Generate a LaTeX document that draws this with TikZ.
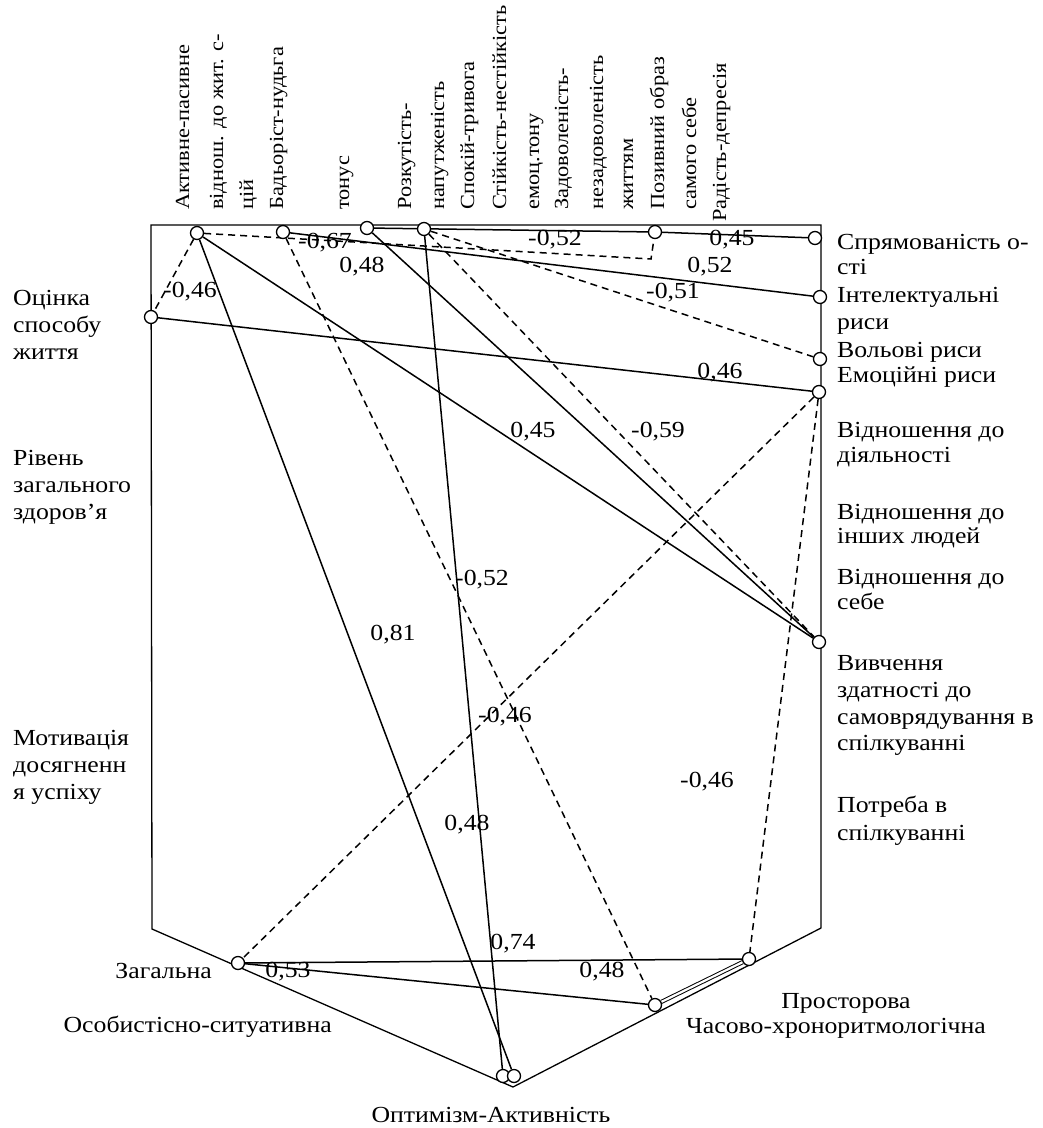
\documentclass[tikz,border=0pt]{standalone}
\usepackage{fontspec}
\setmainfont{Liberation Serif}
\newfontfamily\widefont{Liberation Serif}[FakeStretch=1.12]
\usetikzlibrary{backgrounds}
\begin{document}
\begin{tikzpicture}[x=1pt,y=-1pt,
  lbl/.style={font=\widefont\fontsize{23}{26}\selectfont, inner sep=0pt},
  pt/.style={circle,draw,fill=white,line width=1.3pt,minimum size=13pt,inner sep=0pt},
  posline/.style={line width=1.5pt},
  dblline/.style={line width=1pt,double,double distance=2.2pt},
  negline/.style={line width=1.5pt,dash pattern=on 7pt off 5pt},
  vlab/.style={font=\widefont\fontsize{20}{24}\selectfont, inner sep=0pt,rotate=90,anchor=base west},
  rlab/.style={lbl,anchor=base west},
  elab/.style={lbl,anchor=base east},
  clab/.style={lbl,anchor=base},
  num/.style={lbl}]
\useasboundingbox (0,0) rectangle (1043,1128);

% nodes
\node[pt] (A1) at (197,233) {};
\node[pt] (A2) at (283,232) {};
\node[pt] (A3) at (367,228) {};
\node[pt] (A4) at (424,229) {};
\node[pt] (A5) at (655,232) {};
\node[pt] (R1) at (815,238) {};
\node[pt] (R2) at (820,297) {};
\node[pt] (R3) at (820,359) {};
\node[pt] (R4) at (819,392) {};
\node[pt] (R5) at (819,642) {};
\node[pt] (L1) at (151,317) {};
\node[pt] (Z) at (238,963) {};
\node[pt] (P) at (749,959) {};
\node[pt] (C) at (655,1005) {};
\node[pt] (O1) at (503,1076) {};
\node[pt] (O2) at (514,1076) {};
\coordinate (E) at (651,259);

\begin{pgfonlayer}{background}
\fill[white] (0,0) rectangle (1043,1128);
\draw[line width=1.3pt] (151,225) -- (821,225) -- (821,928) -- (513,1087) -- (152,929) -- cycle;
% positive (solid)
\draw[posline] (A1) -- (O2);
\draw[posline] (A1) -- (R5);
\draw[posline] (A2) -- (R2);
\draw[posline] (A3) -- (R5);
\draw[posline] (A3) -- (A5);
\draw[posline] (A5) -- (R1);
\draw[posline] (A4) -- (O1);
\draw[posline] (L1) -- (R4);
\draw[posline] (Z) -- (P);
\draw[posline] (Z) -- (C);
\draw[dblline] (P) -- (C);
% negative (dashed)
\draw[negline] (A1) -- (L1);
\draw[negline] (A1) -- (E) -- (A5);
\draw[negline] (A2) -- (C);
\draw[negline] (A4) -- (R3);
\draw[negline] (A4) -- (R5);
\draw[negline] (R4) -- (Z);
\draw[negline] (R4) -- (P);
\end{pgfonlayer}

% top rotated labels
\node[vlab] (t1) at (189,210) {Активне-пасивне};
\node[vlab] (t2) at (223,210) {віднош. до жит. с-};
\node[vlab] (t3) at (253,210) {цій};
\node[vlab] (t4) at (283,210) {Бадьоріст-нудьга};
\node[vlab] (t5) at (349,210) {тонус};
\node[vlab] (t6) at (411,210) {Розкутість-};
\node[vlab] (t7) at (444,210) {напутженість};
\node[vlab] (t8) at (474,210) {Спокій-тривога};
\node[vlab] (t9) at (506,210) {Стійкість-нестійкість};
\node[vlab] (t10) at (539,210) {емоц.тону};
\node[vlab] (t11) at (568,210) {Задоволеність-};
\node[vlab] (t12) at (603,210) {незадоволеність};
\node[vlab] (t13) at (633,210) {життям};
\node[vlab] (t14) at (664,210) {Позивний образ};
\node[vlab] (t15) at (696,210) {самого себе};
\node[vlab] (t16) at (726,222) {Радість-депресія};

% right labels
\node[rlab] (r1a) at (837,249) {Спрямованість о-};
\node[rlab] (r1b) at (837,274) {сті};
\node[rlab] (r2a) at (837,302) {Інтелектуальні};
\node[rlab] (r2b) at (837,329) {риси};
\node[rlab] (r3) at (837,357) {Вольові риси};
\node[rlab] (r4) at (837,382) {Емоційні риси};
\node[rlab] (r5a) at (837,437) {Відношення до};
\node[rlab] (r5b) at (837,462) {діяльності};
\node[rlab] (r6a) at (837,519) {Відношення до};
\node[rlab] (r6b) at (837,543) {інших людей};
\node[rlab] (r7a) at (837,584) {Відношення до};
\node[rlab] (r7b) at (837,609) {себе};
\node[rlab] (r8a) at (837,670) {Вивчення};
\node[rlab] (r8b) at (837,697) {здатності до};
\node[rlab] (r8c) at (837,724) {самоврядування в};
\node[rlab] (r8d) at (837,750) {спілкуванні};
\node[rlab] (r9a) at (837,812) {Потреба в};
\node[rlab] (r9b) at (837,840) {спілкуванні};

% left labels
\node[rlab] (l1a) at (13,305) {Оцінка};
\node[rlab] (l1b) at (13,332) {способу};
\node[rlab] (l1c) at (13,359) {життя};
\node[rlab] (l2a) at (13,465) {Рівень};
\node[rlab] (l2b) at (13,492) {загального};
\node[rlab] (l2c) at (13,519) {здоров’я};
\node[rlab] (l3a) at (13,745) {Мотивація};
\node[rlab] (l3b) at (13,772) {досягненн};
\node[rlab] (l3c) at (13,799) {я успіху};

% bottom labels
\node[elab] (b1) at (212,978) {Загальна};
\node[elab] (b2) at (332,1032) {Особистісно-ситуативна};
\node[clab] (b3) at (846,1008) {Просторова};
\node[rlab] (b4) at (686,1033) {Часово-хроноритмологічна};
\node[clab] (b5) at (491,1122) {Оптимізм-Активність};

% coefficients
\node[num] (n1) at (190,292) {-0,46};
\node[num] (n2) at (325,243) {-0,67};
\node[num] (n3) at (362,267) {0,48};
\node[num] (n4) at (555,240) {-0,52};
\node[num] (n5) at (732,240) {0,45};
\node[num] (n6) at (710,267) {0,52};
\node[num] (n7) at (673,293) {-0,51};
\node[num] (n8) at (720,373) {0,46};
\node[num] (n9) at (533,432) {0,45};
\node[num] (n10) at (658,432) {-0,59};
\node[num] (n11) at (482,580) {-0,52};
\node[num] (n12) at (393,635) {0,81};
\node[num] (n13) at (505,717) {-0,46};
\node[num] (n14) at (707,782) {-0,46};
\node[num] (n15) at (467,825) {0,48};
\node[num] (n16) at (513,944) {0,74};
\node[num] (n17) at (288,972) {0,53};
\node[num] (n18) at (602,972) {0,48};
\end{tikzpicture}
\end{document}
